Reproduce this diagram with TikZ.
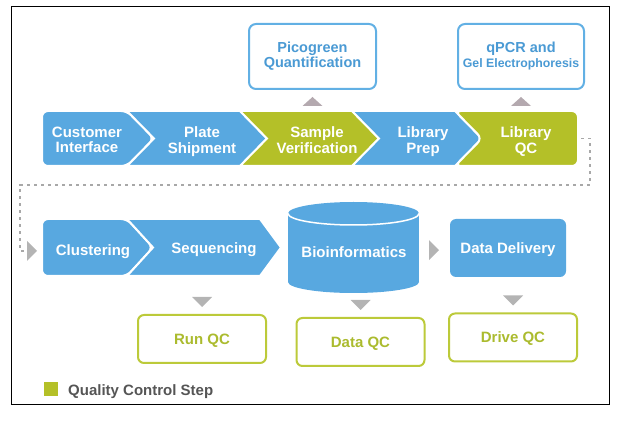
\documentclass[tikz,border=0pt]{standalone}
\usepackage{fontspec}
\setmainfont{Liberation Sans}
\usepackage{tikz}
\usetikzlibrary{calc}
\definecolor{ngsblue}{HTML}{58A8E0}
\definecolor{ngsgreen}{HTML}{B4C028}
\definecolor{boxblue}{HTML}{62B0E4}
\definecolor{txtblue}{HTML}{4A9AD4}
\definecolor{qcline}{HTML}{BCCA3A}
\definecolor{txtgreen}{HTML}{ABBB2E}
\definecolor{trigray}{HTML}{B4B4B4}
\definecolor{trimauve}{HTML}{B4A9AF}
\definecolor{dashgray}{HTML}{A8A8A8}
\definecolor{legendgray}{HTML}{555555}
\tikzset{
  chevfill/.style={fill=#1,draw=white,line width=2pt},
  steptext/.style={text=white,font=\bfseries\fontsize{15}{15.5}\selectfont,align=center,inner sep=0pt,text depth=0pt},
  checkbox/.style={draw=boxblue,line width=2pt,rounded corners=7pt,fill=white,text=txtblue,
    font=\bfseries\fontsize{14.5}{15}\selectfont,align=center},
  qcbox/.style={draw=qcline,line width=2pt,rounded corners=6pt,fill=white,text=txtgreen,
    font=\bfseries\fontsize{15}{15.5}\selectfont,minimum width=128pt,minimum height=48pt,text depth=0pt},
  flowdash/.style={draw=dashgray,line width=1.2pt,dash pattern=on 3pt off 4pt}
}
\newcommand\chevron[6]{\filldraw[chevfill=#6] (#1,#3) -- (#2,#3) -- ({#2+#5},{(#3+#4)/2}) -- (#2,#4) -- (#1,#4) -- ({#1+#5},{(#3+#4)/2}) -- cycle;}
\newcommand\triup[1]{\fill[trimauve] ($(#1.south)+(-10,16)$) -- ++(20,0) -- ++(-10,-9) -- cycle;}
\newcommand\tridown[1]{\fill[trigray] ($(#1.north)+(-10,-17)$) -- ++(20,0) -- ++(-10,10) -- cycle;}
\newcommand\triright[1]{\fill[trigray] (#1) ++(-5,-10) -- ++(10,10) -- ++(-10,10) -- cycle;}

\begin{document}
\begin{tikzpicture}[x=1pt,y=-1pt]
\useasboundingbox (0,0) rectangle (622,422);
\draw[line width=1pt] (11,7) rectangle (609,405);
% first row
\filldraw[chevfill=ngsblue,rounded corners=6pt] (154,138.5) -- (127,166) -- (42,166) -- (42,111) -- (127,111) -- cycle;
\foreach \xl/\xr/\col in {127/240/ngsblue,240/352/ngsgreen,352/455/ngsblue}
  \chevron{\xl}{\xr}{111}{166}{27}{\col}
\filldraw[chevfill=ngsgreen,rounded corners=6pt] (455,111) -- (578,111) -- (578,166) -- (455,166) -- (482,138.5) -- cycle;
\node[steptext] (cust) at (87,140) {Customer\\Interface};
\node[steptext] (plate) at (202,140) {Plate\\Shipment};
\node[steptext] (sample) at (317,140) {Sample\\Verification};
\node[steptext] (prep) at (423,140) {Library\\Prep};
\node[steptext] (libqc) at (526,140) {Library\\QC};
\node[checkbox,minimum width=127pt,minimum height=65pt] (pico) at (312.5,56.5) {Picogreen\\Quantification};
\node[checkbox,minimum width=126pt,minimum height=65pt] (qpcr) at (521,56.5) {qPCR and\\{\fontsize{12.3}{15}\selectfont Gel Electrophoresis}};
\triup{pico}
\triup{qpcr}
% second row
\filldraw[chevfill=ngsblue,rounded corners=6pt] (153,247.5) -- (127,276) -- (42,276) -- (42,219) -- (127,219) -- cycle;
\filldraw[chevfill=ngsblue] (127,219) -- (260,219) -- (281,247.5) -- (260,276) -- (127,276) -- (153,247.5) -- cycle;
\fill[ngsblue] (288,213.5) rectangle (419,282);
\fill[ngsblue] (353.5,282) ellipse [x radius=65.5,y radius=11];
\fill[ngsblue] (353.5,213.5) ellipse [x radius=65.5,y radius=11.5];
\draw[white,line width=1.5pt] (288,213.5) arc[start angle=180,end angle=0,x radius=65.5,y radius=11.5];
\node[steptext] (clust) at (93,250) {Clustering};
\node[steptext] (seq) at (214,248) {Sequencing};
\node[steptext] (bioinf) at (354,252.5) {Bioinformatics};
\node[steptext,fill=ngsblue,rounded corners=6pt,minimum width=116pt,minimum height=58pt] (datadel) at (508,248) {Data Delivery};
\triright{$(bioinf)!0.52!(datadel)$}
\node[qcbox] (runqc) at (202,339) {Run QC};
\node[qcbox] (dataqc) at (360.5,342) {Data QC};
\node[qcbox] (driveqc) at (513,337.5) {Drive QC};
\tridown{runqc}
\tridown{dataqc}
\tridown{driveqc}
% back to the start of the second row
\coordinate (qcend) at (581,138.5);
\coordinate (clstart) at (32,251);
\draw[flowdash] (qcend) -| (590,185) -| (20,251) -- (clstart);
\triright{clstart}
% legend
\node[fill=ngsgreen,minimum size=14pt,inner sep=0pt] (qckey) at (51,389.5) {};
\node[anchor=west,inner sep=0pt,text depth=0pt,text=legendgray,font=\bfseries\fontsize{15}{15}\selectfont] (qclabel) at (68,390) {Quality Control Step};
\end{tikzpicture}
\end{document}
